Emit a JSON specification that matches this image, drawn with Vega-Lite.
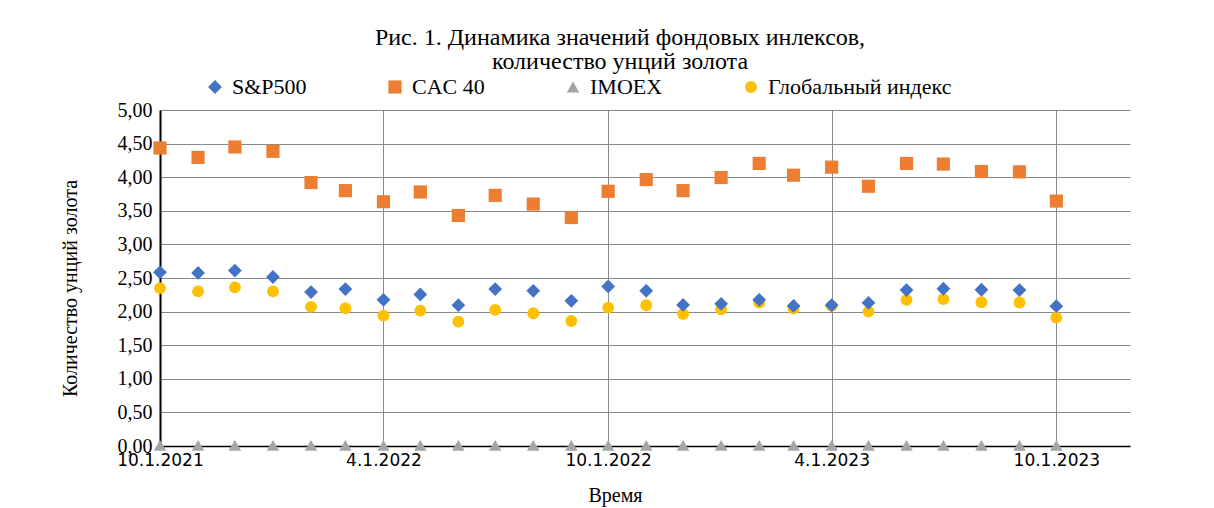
{
  "$schema": "https://vega.github.io/schema/vega-lite/v6.json",
  "width": 970,
  "height": 336,
  "autosize": "none",
  "padding": {"left": 160, "top": 110, "right": 84, "bottom": 62},
  "background": "white",
  "config": {"view": {"stroke": null}},
  "title": {
    "text": ["Рис. 1. Динамика значений фондовых инлексов,", "количество унций золота"],
    "font": "Liberation Serif",
    "fontSize": 24,
    "fontWeight": "normal",
    "color": "#000000",
    "anchor": "middle",
    "dx": -25,
    "dy": 28,
    "lineHeight": 24,
    "offset": 30
  },
  "data": {
    "values": [
      {"date": "2021-10-01", "series": "Глобальный индекс", "value": 2.35},
      {"date": "2021-11-01", "series": "Глобальный индекс", "value": 2.30},
      {"date": "2021-12-01", "series": "Глобальный индекс", "value": 2.36},
      {"date": "2022-01-01", "series": "Глобальный индекс", "value": 2.30},
      {"date": "2022-02-01", "series": "Глобальный индекс", "value": 2.07},
      {"date": "2022-03-01", "series": "Глобальный индекс", "value": 2.05},
      {"date": "2022-04-01", "series": "Глобальный индекс", "value": 1.94},
      {"date": "2022-05-01", "series": "Глобальный индекс", "value": 2.015},
      {"date": "2022-06-01", "series": "Глобальный индекс", "value": 1.85},
      {"date": "2022-07-01", "series": "Глобальный индекс", "value": 2.025},
      {"date": "2022-08-01", "series": "Глобальный индекс", "value": 1.975},
      {"date": "2022-09-01", "series": "Глобальный индекс", "value": 1.86},
      {"date": "2022-10-01", "series": "Глобальный индекс", "value": 2.06},
      {"date": "2022-11-01", "series": "Глобальный индекс", "value": 2.095},
      {"date": "2022-12-01", "series": "Глобальный индекс", "value": 1.965},
      {"date": "2023-01-01", "series": "Глобальный индекс", "value": 2.035},
      {"date": "2023-02-01", "series": "Глобальный индекс", "value": 2.135},
      {"date": "2023-03-01", "series": "Глобальный индекс", "value": 2.045},
      {"date": "2023-04-01", "series": "Глобальный индекс", "value": 2.085},
      {"date": "2023-05-01", "series": "Глобальный индекс", "value": 2.00},
      {"date": "2023-06-01", "series": "Глобальный индекс", "value": 2.175},
      {"date": "2023-07-01", "series": "Глобальный индекс", "value": 2.185},
      {"date": "2023-08-01", "series": "Глобальный индекс", "value": 2.14},
      {"date": "2023-09-01", "series": "Глобальный индекс", "value": 2.135},
      {"date": "2023-10-01", "series": "Глобальный индекс", "value": 1.91},

      {"date": "2021-10-01", "series": "IMOEX", "value": 0.01},
      {"date": "2021-11-01", "series": "IMOEX", "value": 0.01},
      {"date": "2021-12-01", "series": "IMOEX", "value": 0.01},
      {"date": "2022-01-01", "series": "IMOEX", "value": 0.01},
      {"date": "2022-02-01", "series": "IMOEX", "value": 0.01},
      {"date": "2022-03-01", "series": "IMOEX", "value": 0.01},
      {"date": "2022-04-01", "series": "IMOEX", "value": 0.01},
      {"date": "2022-05-01", "series": "IMOEX", "value": 0.01},
      {"date": "2022-06-01", "series": "IMOEX", "value": 0.01},
      {"date": "2022-07-01", "series": "IMOEX", "value": 0.01},
      {"date": "2022-08-01", "series": "IMOEX", "value": 0.01},
      {"date": "2022-09-01", "series": "IMOEX", "value": 0.01},
      {"date": "2022-10-01", "series": "IMOEX", "value": 0.01},
      {"date": "2022-11-01", "series": "IMOEX", "value": 0.01},
      {"date": "2022-12-01", "series": "IMOEX", "value": 0.01},
      {"date": "2023-01-01", "series": "IMOEX", "value": 0.01},
      {"date": "2023-02-01", "series": "IMOEX", "value": 0.01},
      {"date": "2023-03-01", "series": "IMOEX", "value": 0.01},
      {"date": "2023-04-01", "series": "IMOEX", "value": 0.01},
      {"date": "2023-05-01", "series": "IMOEX", "value": 0.01},
      {"date": "2023-06-01", "series": "IMOEX", "value": 0.01},
      {"date": "2023-07-01", "series": "IMOEX", "value": 0.01},
      {"date": "2023-08-01", "series": "IMOEX", "value": 0.01},
      {"date": "2023-09-01", "series": "IMOEX", "value": 0.01},
      {"date": "2023-10-01", "series": "IMOEX", "value": 0.01},

      {"date": "2021-10-01", "series": "CAC 40", "value": 4.435},
      {"date": "2021-11-01", "series": "CAC 40", "value": 4.295},
      {"date": "2021-12-01", "series": "CAC 40", "value": 4.45},
      {"date": "2022-01-01", "series": "CAC 40", "value": 4.385},
      {"date": "2022-02-01", "series": "CAC 40", "value": 3.92},
      {"date": "2022-03-01", "series": "CAC 40", "value": 3.80},
      {"date": "2022-04-01", "series": "CAC 40", "value": 3.635},
      {"date": "2022-05-01", "series": "CAC 40", "value": 3.78},
      {"date": "2022-06-01", "series": "CAC 40", "value": 3.43},
      {"date": "2022-07-01", "series": "CAC 40", "value": 3.73},
      {"date": "2022-08-01", "series": "CAC 40", "value": 3.60},
      {"date": "2022-09-01", "series": "CAC 40", "value": 3.40},
      {"date": "2022-10-01", "series": "CAC 40", "value": 3.79},
      {"date": "2022-11-01", "series": "CAC 40", "value": 3.965},
      {"date": "2022-12-01", "series": "CAC 40", "value": 3.80},
      {"date": "2023-01-01", "series": "CAC 40", "value": 3.995},
      {"date": "2023-02-01", "series": "CAC 40", "value": 4.205},
      {"date": "2023-03-01", "series": "CAC 40", "value": 4.03},
      {"date": "2023-04-01", "series": "CAC 40", "value": 4.15},
      {"date": "2023-05-01", "series": "CAC 40", "value": 3.865},
      {"date": "2023-06-01", "series": "CAC 40", "value": 4.205},
      {"date": "2023-07-01", "series": "CAC 40", "value": 4.195},
      {"date": "2023-08-01", "series": "CAC 40", "value": 4.085},
      {"date": "2023-09-01", "series": "CAC 40", "value": 4.08},
      {"date": "2023-10-01", "series": "CAC 40", "value": 3.645},

      {"date": "2021-10-01", "series": "S&P500", "value": 2.585},
      {"date": "2021-11-01", "series": "S&P500", "value": 2.575},
      {"date": "2021-12-01", "series": "S&P500", "value": 2.61},
      {"date": "2022-01-01", "series": "S&P500", "value": 2.515},
      {"date": "2022-02-01", "series": "S&P500", "value": 2.29},
      {"date": "2022-03-01", "series": "S&P500", "value": 2.335},
      {"date": "2022-04-01", "series": "S&P500", "value": 2.175},
      {"date": "2022-05-01", "series": "S&P500", "value": 2.255},
      {"date": "2022-06-01", "series": "S&P500", "value": 2.095},
      {"date": "2022-07-01", "series": "S&P500", "value": 2.335},
      {"date": "2022-08-01", "series": "S&P500", "value": 2.31},
      {"date": "2022-09-01", "series": "S&P500", "value": 2.16},
      {"date": "2022-10-01", "series": "S&P500", "value": 2.375},
      {"date": "2022-11-01", "series": "S&P500", "value": 2.31},
      {"date": "2022-12-01", "series": "S&P500", "value": 2.10},
      {"date": "2023-01-01", "series": "S&P500", "value": 2.115},
      {"date": "2023-02-01", "series": "S&P500", "value": 2.175},
      {"date": "2023-03-01", "series": "S&P500", "value": 2.085},
      {"date": "2023-04-01", "series": "S&P500", "value": 2.095},
      {"date": "2023-05-01", "series": "S&P500", "value": 2.13},
      {"date": "2023-06-01", "series": "S&P500", "value": 2.32},
      {"date": "2023-07-01", "series": "S&P500", "value": 2.34},
      {"date": "2023-08-01", "series": "S&P500", "value": 2.325},
      {"date": "2023-09-01", "series": "S&P500", "value": 2.32},
      {"date": "2023-10-01", "series": "S&P500", "value": 2.08}
    ]
  },
  "mark": {"type": "point", "filled": true, "opacity": 1},
  "encoding": {
    "x": {
      "field": "date",
      "type": "temporal",
      "scale": {
        "type": "utc",
        "domain": [
          {"year": 2021, "month": 10, "date": 1, "utc": true},
          {"year": 2023, "month": 11, "date": 30, "utc": true}
        ]
      },
      "axis": {
        "title": "Время",
        "titleFont": "Liberation Serif",
        "titleFontSize": 20,
        "titleFontWeight": "normal",
        "titleColor": "#000000",
        "titleX": 455,
        "titleY": 49,
        "titleAlign": "center",
        "titleBaseline": "middle",
        "values": [
          {"year": 2021, "month": 10, "date": 1, "utc": true},
          {"year": 2022, "month": 4, "date": 1, "utc": true},
          {"year": 2022, "month": 10, "date": 1, "utc": true},
          {"year": 2023, "month": 4, "date": 1, "utc": true},
          {"year": 2023, "month": 10, "date": 1, "utc": true}
        ],
        "labelExpr": "utcFormat(datum.value, '%-m.%-d.%Y')",
        "labelFont": "DejaVu Sans",
        "labelFontSize": 17,
        "labelColor": "#000000",
        "labelPadding": 6,
        "labelBaseline": "top",
        "labelFlush": false,
        "labelOverlap": false,
        "ticks": false,
        "domainColor": "#000000",
        "domainWidth": 1.5,
        "grid": true,
        "gridColor": "#8a8a8a",
        "gridWidth": 1
      }
    },
    "y": {
      "field": "value",
      "type": "quantitative",
      "scale": {"domain": [0, 5], "nice": false, "zero": true},
      "axis": {
        "title": "Количество унций золота",
        "titleFont": "Liberation Serif",
        "titleFontSize": 20,
        "titleFontWeight": "normal",
        "titleColor": "#000000",
        "titleX": -90,
        "titleY": 178,
        "titleAngle": 270,
        "titleAlign": "center",
        "titleBaseline": "middle",
        "values": [0, 0.5, 1, 1.5, 2, 2.5, 3, 3.5, 4, 4.5, 5],
        "labelExpr": "replace(format(datum.value, '.2f'), '.', ',')",
        "labelFont": "Liberation Serif",
        "labelFontSize": 20,
        "labelColor": "#000000",
        "labelPadding": 8,
        "labelOverlap": false,
        "labelFlush": false,
        "ticks": false,
        "domainColor": "#000000",
        "domainWidth": 2,
        "grid": true,
        "gridColor": "#8a8a8a",
        "gridWidth": 1
      }
    },
    "color": {
      "field": "series",
      "type": "nominal",
      "scale": {
        "domain": ["S&P500", "CAC 40", "IMOEX", "Глобальный индекс"],
        "range": ["#4472C4", "#ED7D31", "#A5A5A5", "#FFC000"]
      },
      "legend": {
        "title": null,
        "orient": "none",
        "direction": "horizontal",
        "legendX": 44,
        "legendY": -34,
        "labelFont": "Liberation Serif",
        "labelFontSize": 22,
        "labelColor": "#000000",
        "labelOffset": 6,
        "symbolSize": 150,
        "symbolStrokeWidth": 0,
        "columnPadding": 77,
        "labelLimit": 400
      }
    },
    "shape": {
      "field": "series",
      "type": "nominal",
      "scale": {
        "domain": ["S&P500", "CAC 40", "IMOEX", "Глобальный индекс"],
        "range": ["diamond", "square", "triangle-up", "circle"]
      },
      "legend": null
    },
    "size": {
      "field": "series",
      "type": "nominal",
      "scale": {
        "domain": ["S&P500", "CAC 40", "IMOEX", "Глобальный индекс"],
        "range": [190, 140, 170, 140]
      },
      "legend": null
    }
  }
}
